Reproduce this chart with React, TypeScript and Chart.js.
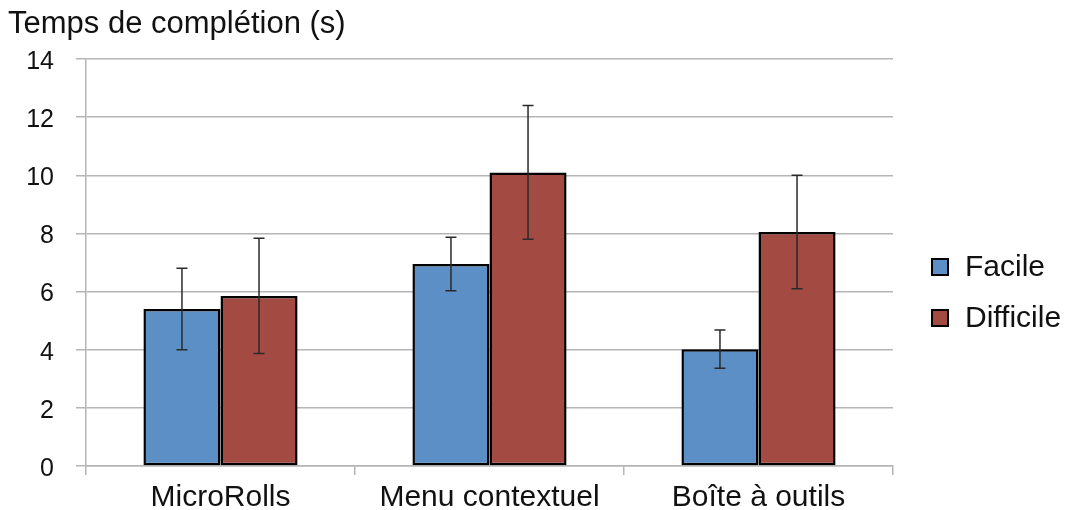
import React, { useEffect, useRef } from "react";
import { Chart, registerables } from "chart.js";

Chart.register(...registerables);

const categories = ["MicroRolls", "Menu contextuel", "Boîte à outils"];
const seriesNames = ["Facile", "Difficile"];
const facileValues = [5.4, 6.95, 4.02];
const facileErrors = [1.4, 0.92, 0.66];
const difficileValues = [5.85, 10.1, 8.05];
const difficileErrors = [1.98, 2.3, 1.95];
const yTicks = [0, 2, 4, 6, 8, 10, 12, 14];
const axisTitle = "Temps de complétion (s)";

const colors = ["#5B8FC6", "#A34A42"];
const FONT = "'Liberation Sans', Arial, sans-serif";

const errorBarPlugin = {
  id: "errorBars",
  afterDatasetsDraw(chart: any) {
    const ctx = chart.ctx;
    const y = chart.scales.y;
    chart.data.datasets.forEach((ds: any, i: number) => {
      const meta = chart.getDatasetMeta(i);
      meta.data.forEach((bar: any, j: number) => {
        const v = ds.data[j];
        const e = ds.errors[j];
        const yTop = y.getPixelForValue(v + e);
        const yBot = y.getPixelForValue(v - e);
        const x = bar.x;
        ctx.save();
        ctx.strokeStyle = "#2a2a2a";
        ctx.lineWidth = 1.5;
        ctx.beginPath();
        ctx.moveTo(x, yTop);
        ctx.lineTo(x, yBot);
        ctx.moveTo(x - 5.5, yTop);
        ctx.lineTo(x + 5.5, yTop);
        ctx.moveTo(x - 5.5, yBot);
        ctx.lineTo(x + 5.5, yBot);
        ctx.stroke();
        ctx.restore();
      });
    });
  },
};

const decorPlugin = {
  id: "decor",
  afterDraw(chart: any) {
    const ctx = chart.ctx;
    ctx.save();
    ctx.fillStyle = "#111";
    ctx.font = `31px ${FONT}`;
    ctx.textBaseline = "alphabetic";
    ctx.textAlign = "left";
    ctx.fillText(axisTitle, 8, 33);
    // legend
    const lx = 932;
    const boxY = [267, 318];
    const textY = [276, 327];
    chart.data.datasets.forEach((ds: any, i: number) => {
      const cy = boxY[i];
      ctx.fillStyle = ds.backgroundColor;
      ctx.fillRect(lx, cy - 8, 16, 16);
      ctx.strokeStyle = "#000";
      ctx.lineWidth = 2;
      ctx.strokeRect(lx, cy - 8, 16, 16);
      ctx.fillStyle = "#111";
      ctx.font = `30px ${FONT}`;
      ctx.textBaseline = "alphabetic";
      ctx.fillText(ds.label, 965, textY[i]);
    });
    ctx.restore();
  },
};

export default function App() {
  const ref = useRef<HTMLCanvasElement>(null);
  useEffect(() => {
    const chart = new Chart(ref.current!, {
      type: "bar",
      data: {
        labels: categories,
        datasets: [
          {
            label: seriesNames[0],
            data: facileValues,
            errors: facileErrors,
            backgroundColor: colors[0],
            borderColor: "#000",
            borderWidth: 2.5,
            borderSkipped: false,
          } as any,
          {
            label: seriesNames[1],
            data: difficileValues,
            errors: difficileErrors,
            backgroundColor: colors[1],
            borderColor: "#000",
            borderWidth: 2.5,
            borderSkipped: false,
          } as any,
        ],
      },
      options: {
        animation: false,
        responsive: false,
        maintainAspectRatio: false,
        layout: { padding: { top: 59, right: 178, left: 0, bottom: 0 } },
        plugins: {
          legend: { display: false },
          tooltip: { enabled: false },
          title: { display: false },
        },
        datasets: { bar: { categoryPercentage: 0.573, barPercentage: 1 } },
        scales: {
          x: {
            grid: {
              offset: true,
              drawOnChartArea: false,
              drawTicks: true,
              tickLength: 9,
              color: "#b5b5b5",
              lineWidth: 1.5,
            },
            border: { color: "#b5b5b5", width: 1.5 },
            ticks: {
              color: "#111",
              font: { family: FONT, size: 30 },
              padding: 5,
            },
            afterFit(scale: any) {
              scale.height = 44;
            },
          },
          y: {
            min: 0,
            max: 14,
            afterBuildTicks(scale: any) {
              scale.ticks = yTicks.map((v) => ({ value: v }));
            },
            grid: {
              color: "#b5b5b5",
              lineWidth: 1.5,
              tickLength: 10,
            },
            border: { color: "#b5b5b5", width: 1.5 },
            ticks: {
              color: "#111",
              font: { family: FONT, size: 25 },
              padding: 22,
              labelOffset: 3,
            },
            afterFit(scale: any) {
              scale.width = 86;
            },
          },
        },
      },
      plugins: [errorBarPlugin, decorPlugin],
    } as any);
    return () => chart.destroy();
  }, []);
  return (
    <div style={{ position: "absolute", left: 0, top: 0, width: 1071, height: 510, background: "#fff" }}>
      <canvas ref={ref} width={1071} height={510} style={{ width: 1071, height: 510 }} />
    </div>
  );
}
